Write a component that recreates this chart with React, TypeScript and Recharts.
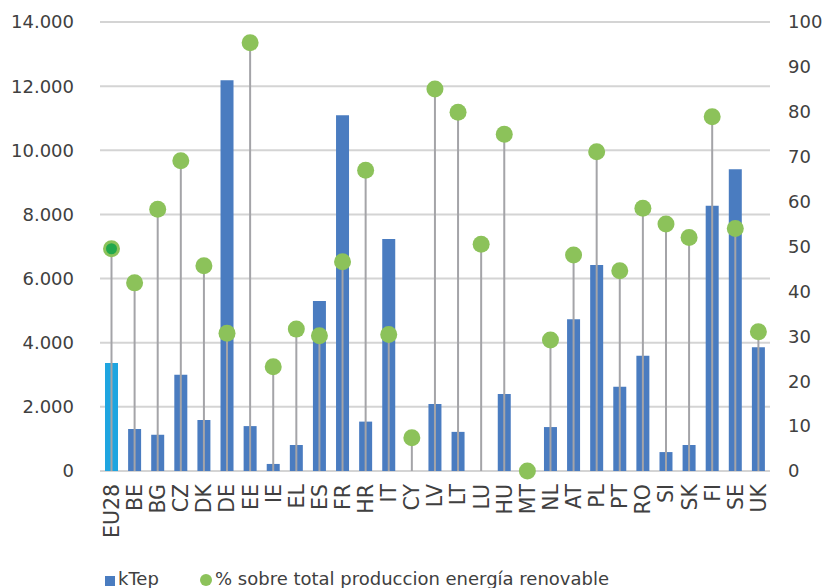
import React from 'react';
import { ComposedChart, Bar, Cell, XAxis, YAxis, CartesianGrid } from 'recharts';

const categories = ['EU28', 'BE', 'BG', 'CZ', 'DK', 'DE', 'EE', 'IE', 'EL', 'ES', 'FR', 'HR', 'IT', 'CY', 'LV', 'LT', 'LU', 'HU', 'MT', 'NL', 'AT', 'PL', 'PT', 'RO', 'SI', 'SK', 'FI', 'SE', 'UK'];
const kTep = [3370, 1310, 1130, 3000, 1590, 12180, 1400, 220, 810, 5300, 11090, 1540, 7230, 0, 2090, 1220, 0, 2400, 0, 1370, 4730, 6420, 2630, 3590, 590, 810, 8270, 9410, 3860];
const pctRenovable = [49.5, 41.9, 58.3, 69.1, 45.7, 30.7, 95.4, 23.2, 31.6, 30.1, 46.6, 67.0, 30.4, 7.4, 85.1, 79.9, 50.5, 75.0, 0, 29.2, 48.1, 71.1, 44.6, 58.5, 55.0, 52.0, 78.9, 54.0, 31.0];
const leftTicks = [0, 2000, 4000, 6000, 8000, 10000, 12000, 14000];
const rightTicks = [0, 10, 20, 30, 40, 50, 60, 70, 80, 90, 100];

const data = categories.map((name, i) => ({ name, kTep: kTep[i], pct: pctRenovable[i] }));

const FONT = '"DejaVu Sans", Verdana, sans-serif';
const TEXT = '#404040';
const BLUE = '#4a7cc0';
const GREEN = '#8cc25a';

const fmtThousands = (v: number) => v.toLocaleString('de-DE');

// stem from the baseline up to the value, with a dot on top
const Lollipop = (props: any) => {
  const { x, y, width, height, payload } = props;
  const cx = x + width / 2;
  const base = y + height;
  const isEU = payload && payload.name === 'EU28';
  return (
    <g>
      {height > 0 && <line x1={cx} x2={cx} y1={base} y2={y} stroke="#a4a4a8" strokeWidth={2} />}
      <circle cx={cx} cy={y} r={8.5} fill={GREEN} />
      {isEU && <circle cx={cx} cy={y} r={5.5} fill="#22a84c" />}
    </g>
  );
};

const CountryTick = (props: any) => {
  const { x, y, payload } = props;
  return (
    <text
      transform={`translate(${x},${y}) rotate(-90)`}
      textAnchor="end"
      dy="0.36em"
      fontSize={20.5}
      fontFamily={FONT}
      fill={TEXT}
    >
      {payload.value}
    </text>
  );
};

export default function App() {
  return (
    <div style={{ position: 'absolute', left: 0, top: 0, width: 825, height: 588, background: '#fff', fontFamily: FONT }}>
      <ComposedChart width={825} height={588} data={data} margin={{ top: 22, right: 0, bottom: 0, left: 0 }} barGap={0}>
        <CartesianGrid horizontal vertical={false} stroke="#d4d4d4" strokeWidth={2} yAxisId="left" xAxisId="a" />
        <XAxis
          xAxisId="a"
          dataKey="name"
          height={117}
          axisLine={false}
          tickLine={false}
          tickSize={0}
          tickMargin={13}
          interval={0}
          tick={<CountryTick />}
        />
        <XAxis xAxisId="b" dataKey="name" hide />
        <YAxis
          yAxisId="left"
          width={100}
          domain={[0, 14000]}
          ticks={leftTicks}
          tickFormatter={fmtThousands}
          axisLine={false}
          tickLine={false}
          tickSize={0}
          tickMargin={26}
          tick={{ fontSize: 18, fill: TEXT, fontFamily: FONT }}
        />
        <YAxis
          yAxisId="right"
          orientation="right"
          width={55}
          domain={[0, 100]}
          ticks={rightTicks}
          axisLine={false}
          tickLine={false}
          tickSize={0}
          tickMargin={18}
          tick={{ fontSize: 18, fill: TEXT, fontFamily: FONT, textAnchor: 'start' }}
        />
        <Bar xAxisId="a" yAxisId="left" dataKey="kTep" barSize={13} fill={BLUE} isAnimationActive={false}>
          {data.map((d) => (
            <Cell key={d.name} fill={d.name === 'EU28' ? '#1fa5e0' : BLUE} />
          ))}
        </Bar>
        <Bar xAxisId="b" yAxisId="right" dataKey="pct" barSize={13} shape={<Lollipop />} isAnimationActive={false} />
      </ComposedChart>
      <div style={{ position: 'absolute', left: 105, top: 576, width: 10, height: 10, background: BLUE }} />
      <div style={{ position: 'absolute', left: 118, top: 569, fontSize: 18, lineHeight: '20px', color: TEXT, whiteSpace: 'nowrap' }}>kTep</div>
      <div style={{ position: 'absolute', left: 200, top: 574, width: 12, height: 12, borderRadius: 6, background: GREEN }} />
      <div style={{ position: 'absolute', left: 215, top: 569, fontSize: 18, lineHeight: '20px', color: TEXT, whiteSpace: 'nowrap' }}>
        % sobre total produccion energía renovable
      </div>
    </div>
  );
}
